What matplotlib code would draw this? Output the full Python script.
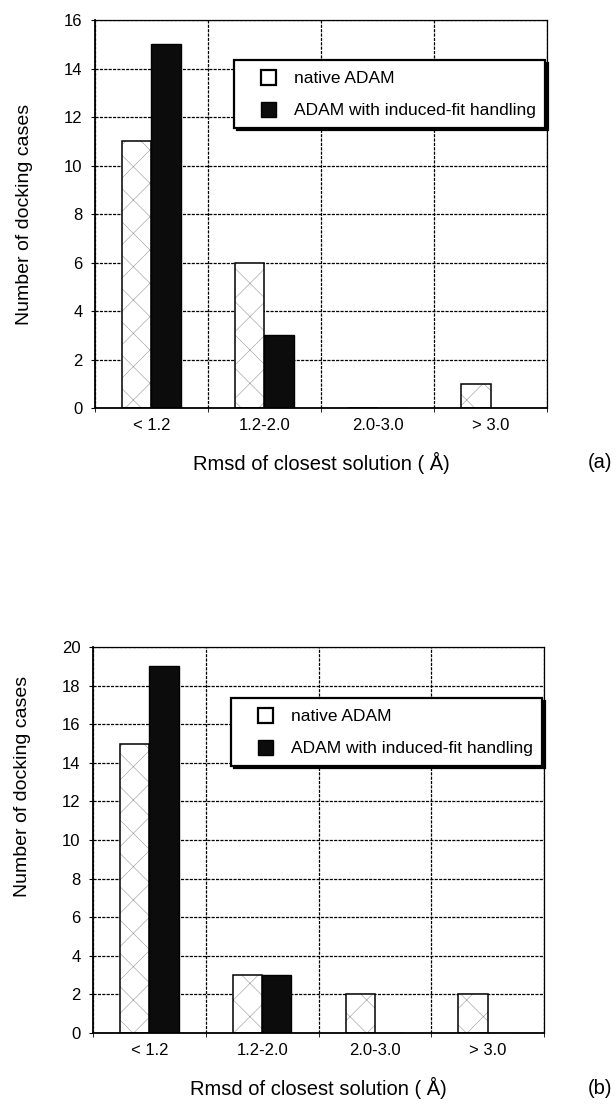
import numpy as np
import matplotlib
matplotlib.use("Agg")
import matplotlib.pyplot as plt
from matplotlib.patches import Rectangle
from matplotlib.legend_handler import HandlerPatch

plt.rcParams["font.family"] = ["Liberation Sans", "DejaVu Sans"]
plt.rcParams["hatch.linewidth"] = 0.4

# data
categories = ["< 1.2", "1.2-2.0", "2.0-3.0", "> 3.0"]
native_a = [11, 6, 0, 1]
induced_a = [15, 3, 0, 0]
native_b = [15, 3, 2, 2]
induced_b = [19, 3, 0, 0]
series_names = ["native ADAM", "ADAM with induced-fit handling"]


def square_patch(legend, orig_handle, xdescent, ydescent, width, height, fontsize):
    # small square at the right end of the handle box
    s = height
    return Rectangle((-xdescent + width - s, -ydescent), s, s)


fig = plt.figure(figsize=(6.16, 11.07), dpi=100)

panels = [
    ([0.1542, 0.6314, 0.7338, 0.3505], native_a, induced_a, 16, "(a)", 0.897, 0.5, 462),
    ([0.151, 0.0668, 0.7321, 0.3487], native_b, induced_b, 20, "(b)", 0.868, 0.64, 1088),
]

x = np.arange(len(categories))
w = 0.26
grid_kw = dict(color="black", lw=0.9, ls=(0, (2.5, 1)))

for rect, nat, ind, ymax, tag, leg_top, ylab_y, tag_y in panels:
    ax = fig.add_axes(rect)
    ax.set_axisbelow(True)
    # light hatch first, then the black outline on top
    ax.bar(x - w / 2, nat, w, color="white", edgecolor="0.6", lw=0, hatch="x")
    ax.bar(x - w / 2, nat, w, fill=False, edgecolor="black", lw=1.1)
    ax.bar(x + w / 2, ind, w, color="#0c0c0c", edgecolor="black", lw=1.0)
    h1 = Rectangle((0, 0), 1, 1, facecolor="white", edgecolor="black", lw=1.6)
    h2 = Rectangle((0, 0), 1, 1, facecolor="#0c0c0c", edgecolor="black", lw=1.0)

    ax.set_xlim(-0.5, 3.5)
    ax.set_ylim(0, ymax)
    ax.set_yticks(np.arange(0, ymax + 1, 2))
    ax.set_xticks(x)
    ax.set_xticklabels(categories, fontsize=12)
    ax.set_xticks(np.arange(-0.5, 4, 1), minor=True)
    ax.tick_params(axis="x", which="major", length=0, pad=7)
    ax.tick_params(axis="x", which="minor", length=3)
    ax.tick_params(axis="y", labelsize=12, length=3, pad=6)
    ax.grid(True, axis="y", which="major", **grid_kw)
    ax.grid(True, axis="x", which="minor", **grid_kw)
    for s in ["top", "right"]:
        ax.spines[s].set_linewidth(0.9)
        ax.spines[s].set_linestyle((0, (2.5, 1)))
    for s in ["left", "bottom"]:
        ax.spines[s].set_linewidth(1.3)

    ax.set_ylabel("Number of docking cases", fontsize=14)
    ax.yaxis.set_label_coords(-0.138, ylab_y)
    ax.set_xlabel("Rmsd of closest solution ( \u00c5)", fontsize=14.5, labelpad=14)
    fig.text(600 / 616, 1 - tag_y / 1107, tag, fontsize=14.5, ha="center", va="center")

    leg = ax.legend([h1, h2], series_names, loc="upper right",
                    bbox_to_anchor=(0.996, leg_top),
                    handler_map={Rectangle: HandlerPatch(patch_func=square_patch)},
                    fontsize=12.5, frameon=True, fancybox=False,
                    edgecolor="black", framealpha=1,
                    shadow={"color": "black", "alpha": 1, "shade": 1},
                    handlelength=1.9, handleheight=0.95,
                    handletextpad=1.0, borderpad=0.55, labelspacing=0.9,
                    borderaxespad=0)
    leg.get_frame().set_linewidth(1.6)

fig.savefig("out.png", dpi=100)
